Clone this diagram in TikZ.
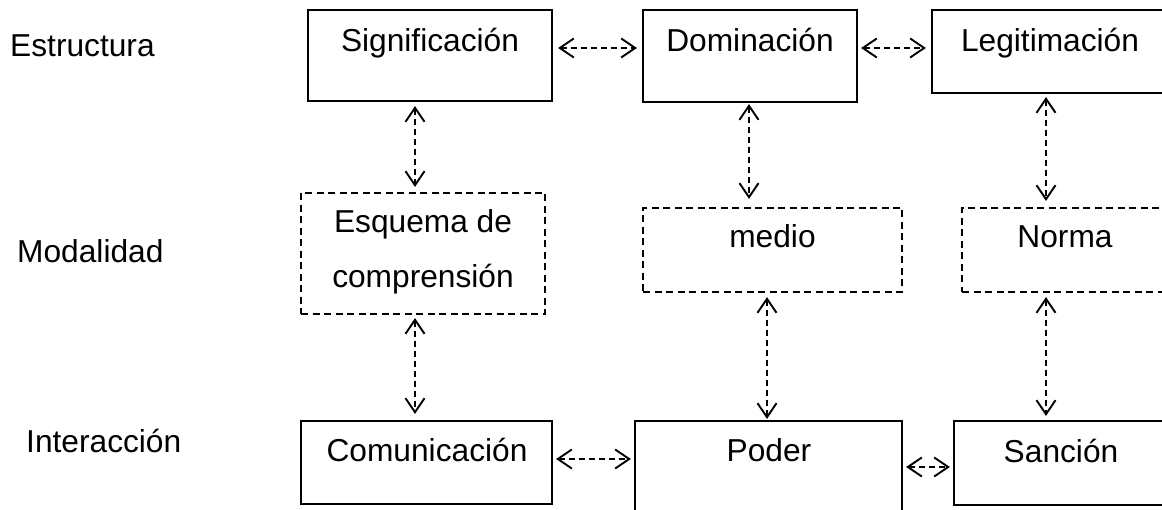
\documentclass[tikz,border=0pt]{standalone}
\usepackage{fontspec}
\setmainfont{Liberation Sans}
\usetikzlibrary{arrows.meta}
\tikzset{
  sbox/.style={draw=black, line width=2.2pt, rectangle, inner sep=0pt},
  dbox/.style={draw=black, line width=2.2pt, rectangle, inner sep=0pt, dash pattern=on 7pt off 4.5pt},
  lbl/.style={inner sep=0pt, anchor=base, font=\fontsize{31.7}{38}\selectfont},
  side/.style={inner sep=0pt, anchor=base west, font=\fontsize{31.7}{38}\selectfont},
  tipb/.tip={Straight Barb[length=14pt,width=19pt,line width=1.9pt]},
  conn/.style={line width=1.9pt, dash pattern=on 6pt off 4pt, tipb-tipb}
}
\begin{document}
\begin{tikzpicture}[x=1pt,y=-1pt]
\useasboundingbox (0,0) rectangle (1162,510);
\clip (0,0) rectangle (1162,510);
\fill[white] (0,0) rectangle (1162,510);
% boxes
\node[sbox, minimum width=244pt, minimum height=91pt] (sig) at (430,55.5) {};
\node[sbox, minimum width=214pt, minimum height=92pt] (dom) at (750,56) {};
\node[sbox, minimum width=236pt, minimum height=83pt] (leg) at (1050,51.5) {};
\node[dbox, minimum width=244pt, minimum height=121pt] (esq) at (423,253.5) {};
\node[dbox, minimum width=259pt, minimum height=84pt] (med) at (772.5,250) {};
\node[dbox, minimum width=206pt, minimum height=84pt] (nor) at (1065,250) {};
\node[sbox, minimum width=251pt, minimum height=83pt] (com) at (426.5,462.5) {};
\node[sbox, minimum width=267pt, minimum height=104pt] (pod) at (768.5,473) {};
\node[sbox, minimum width=214pt, minimum height=84pt] (san) at (1061,463) {};
% texts
\node[lbl] (sigt) at (430,52) {Significación};
\node[lbl] (domt) at (750,52) {Dominación};
\node[lbl] (legt) at (1050,52) {Legitimación};
\node[lbl] (esqt1) at (423,233) {Esquema de};
\node[lbl] (esqt2) at (423,288) {comprensión};
\node[lbl] (medt) at (772.5,248) {medio};
\node[lbl] (nort) at (1065,248) {Norma};
\node[lbl] (comt) at (427,461) {Comunicación};
\node[lbl] (podt) at (769,461) {Poder};
\node[lbl] (sant) at (1061,462) {Sanción};
\node[side] (l1) at (10,57) {Estructura};
\node[side] (l2) at (17,263) {Modalidad};
\node[side] (l3) at (26,453) {Interacción};
% horizontal connectors
\draw[conn] ([xshift=5pt,yshift=7.5pt]sig.east) -- ([xshift=-5pt,yshift=8pt]dom.west);
\draw[conn] ([xshift=3pt,yshift=8pt]dom.east) -- ([xshift=-5pt,yshift=3.5pt]leg.west);
\draw[conn] ([xshift=3pt,yshift=3.5pt]com.east) -- ([xshift=-3pt,yshift=14pt]pod.west);
\draw[conn] ([xshift=3pt,yshift=6pt]pod.east) -- ([xshift=-3pt,yshift=-4pt]san.west);
% vertical connectors
\draw[conn] ([xshift=-15pt,yshift=-4pt]sig.south) -- ([xshift=-8pt,yshift=5pt]esq.north);
\draw[conn] ([xshift=-8pt,yshift=-3pt]esq.south) -- ([xshift=-11.5pt,yshift=6pt]com.north);
\draw[conn] ([xshift=-1pt,yshift=-1pt]dom.south) -- ([xshift=-23.5pt,yshift=8pt]med.north);
\draw[conn] ([xshift=-5.5pt,yshift=-4pt]med.south) -- ([xshift=-1.5pt,yshift=1pt]pod.north);
\draw[conn] ([xshift=-4pt,yshift=-3pt]leg.south) -- ([xshift=-19pt,yshift=6pt]nor.north);
\draw[conn] ([xshift=-19pt,yshift=-4pt]nor.south) -- ([xshift=-15pt,yshift=4pt]san.north);
\end{tikzpicture}
\end{document}
